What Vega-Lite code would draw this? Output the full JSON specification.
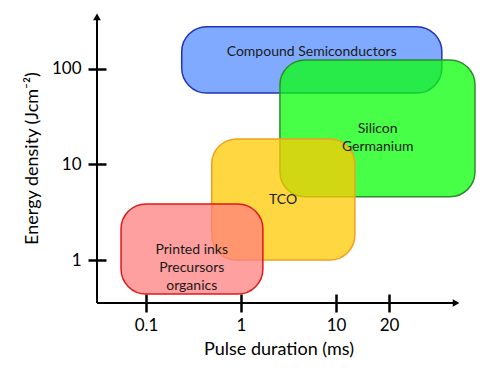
{
  "$schema": "https://vega.github.io/schema/vega-lite/v6.json",
  "width": 363,
  "height": 290,
  "autosize": "none",
  "padding": {"left": 97, "top": 13, "right": 35, "bottom": 73},
  "background": "white",
  "config": {"view": {"stroke": null}, "font": "Lato"},
  "datasets": {
    "boxes": [
      {"name": "Compound Semiconductors", "x1": 0.2377, "x2": 33.5, "y1": 56, "y2": 277},
      {"name": "Silicon Germanium", "x1": 2.57, "x2": 46.3, "y1": 4.6, "y2": 124},
      {"name": "TCO", "x1": 0.492, "x2": 12.8, "y1": 1.0, "y2": 18.5},
      {"name": "Printed inks", "x1": 0.0546, "x2": 1.7, "y1": 0.44, "y2": 3.86}
    ],
    "labels": [
      {"x": 5.55, "y": 152, "text": ["Compound Semiconductors"]},
      {"x": 17.25, "y": 23.5, "text": ["Silicon", "Germanium"]},
      {"x": 2.77, "y": 4.25, "text": ["TCO"]},
      {"x": 0.303, "y": 1.27, "text": ["Printed inks", "Precursors", "organics"]}
    ],
    "one": [{}]
  },
  "layer": [
    {
      "data": {"name": "boxes"},
      "mark": {"type": "rect", "cornerRadius": 25, "fillOpacity": 0.75, "strokeWidth": 1.5},
      "encoding": {
        "x": {
          "field": "x1", "type": "quantitative",
          "scale": {"type": "log", "domain": [0.0305, 0.1, 1, 10, 20, 40], "range": [0, 49, 144, 239, 292, 363], "nice": false},
          "axis": {
            "values": [0.1, 1, 10, 20],
            "labelExpr": "format(datum.value, '~g')",
            "domain": false, "grid": false, "offset": -9,
            "tickSize": 18, "tickWidth": 2.5, "tickColor": "#000",
            "labelFontSize": 17, "labelColor": "#000", "labelPadding": 5,
            "title": "Pulse duration (ms)", "titleFontSize": 18, "titleFontWeight": "normal", "titleColor": "#000", "titlePadding": 7
          }
        },
        "x2": {"field": "x2"},
        "y": {
          "field": "y1", "type": "quantitative",
          "scale": {"type": "log", "domain": [0.355, 385], "nice": false},
          "axis": {
            "values": [1, 10, 100],
            "labelExpr": "format(datum.value, '~g')",
            "domain": false, "grid": false, "offset": -9,
            "tickSize": 18, "tickWidth": 2.5, "tickColor": "#000",
            "labelFontSize": 17, "labelColor": "#000", "labelPadding": 7,
            "title": "Energy density (Jcm⁻²)", "titleFontSize": 18, "titleFontWeight": "normal", "titleColor": "#000", "titlePadding": 10
          }
        },
        "y2": {"field": "y2"},
        "fill": {
          "field": "name", "type": "nominal", "legend": null,
          "scale": {"domain": ["Compound Semiconductors", "Silicon Germanium", "TCO", "Printed inks"], "range": ["#568EFF", "#0BFF0B", "#FFCA00", "#FF8080"]}
        },
        "stroke": {
          "field": "name", "type": "nominal", "legend": null,
          "scale": {"domain": ["Compound Semiconductors", "Silicon Germanium", "TCO", "Printed inks"], "range": ["#2233BB", "#2E8B2E", "#F0A020", "#E01818"]}
        }
      }
    },
    {
      "data": {"name": "labels"},
      "mark": {"type": "text", "fontSize": 14, "lineHeight": 18, "color": "#1a1a1a", "align": "center", "baseline": "middle"},
      "encoding": {
        "x": {"field": "x", "type": "quantitative"},
        "y": {"field": "y", "type": "quantitative"},
        "text": {"field": "text"}
      }
    },
    {
      "data": {"name": "one"},
      "mark": {"type": "rule", "color": "#000", "strokeWidth": 2},
      "encoding": {
        "x": {"datum": 0.0305}, "x2": {"datum": 38.5},
        "y": {"datum": 0.355}
      }
    },
    {
      "data": {"name": "one"},
      "mark": {"type": "rule", "color": "#000", "strokeWidth": 2},
      "encoding": {
        "x": {"datum": 0.0305},
        "y": {"datum": 0.355}, "y2": {"datum": 350}
      }
    },
    {
      "data": {"name": "one"},
      "mark": {"type": "point", "shape": "triangle-right", "filled": true, "color": "#000", "size": 60, "opacity": 1},
      "encoding": {"x": {"datum": 38.5}, "y": {"datum": 0.355}}
    },
    {
      "data": {"name": "one"},
      "mark": {"type": "point", "shape": "triangle-up", "filled": true, "color": "#000", "size": 60, "opacity": 1},
      "encoding": {"x": {"datum": 0.0305}, "y": {"datum": 350}}
    }
  ]
}
